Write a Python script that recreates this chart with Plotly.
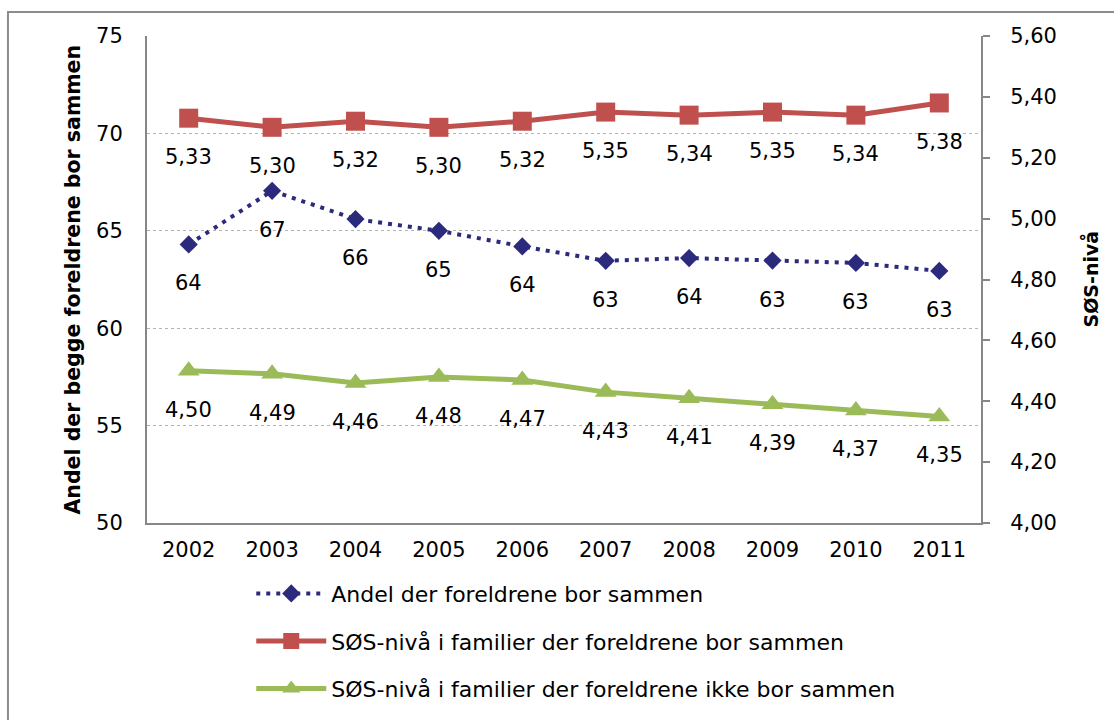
import plotly.graph_objects as go

# Data
years = ["2002", "2003", "2004", "2005", "2006", "2007", "2008", "2009", "2010", "2011"]
andel_sammen = [64.3, 67.05, 65.6, 65.0, 64.2, 63.46, 63.6, 63.47, 63.35, 62.94]
sos_sammen = [5.33, 5.30, 5.32, 5.30, 5.32, 5.35, 5.34, 5.35, 5.34, 5.38]
sos_ikke_sammen = [4.50, 4.49, 4.46, 4.48, 4.47, 4.43, 4.41, 4.39, 4.37, 4.35]

names = [
    "Andel der foreldrene bor sammen",
    "SØS-nivå i familier der foreldrene bor sammen",
    "SØS-nivå i familier der foreldrene ikke bor sammen",
]

BLUE = "#2C2A7C"
RED = "#C0504D"
GREEN = "#9BBB59"
AXIS = "#878787"
FONT = "DejaVu Sans"
FS = 21

fig = go.Figure()

fig.add_trace(go.Scatter(
    x=years, y=andel_sammen, name=names[0], mode="lines+markers",
    line=dict(color=BLUE, width=4, dash="4px,6px"),
    marker=dict(symbol="diamond", size=14, color=BLUE),
    legendgroup="a", yaxis="y",
))
fig.add_trace(go.Scatter(
    x=years, y=sos_sammen, name=names[1], mode="lines+markers",
    line=dict(color=RED, width=5),
    marker=dict(symbol="square", size=19, color=RED),
    legendgroup="b", yaxis="y2",
))
fig.add_trace(go.Scatter(
    x=years, y=sos_ikke_sammen, name=names[2], mode="lines+markers",
    line=dict(color=GREEN, width=5),
    marker=dict(symbol="triangle-up", size=19, color=GREEN),
    legendgroup="c", yaxis="y2",
))

# Value labels under each marker (x given as category index)
label_font = dict(family=FONT, size=FS, color="#000")
annotations = []
for i, v in enumerate(andel_sammen):
    annotations.append(dict(x=i, y=v, xref="x", yref="y", text=f"{v:.0f}",
                            showarrow=False, yshift=-39, font=label_font))
for series in (sos_sammen, sos_ikke_sammen):
    for i, v in enumerate(series):
        annotations.append(dict(x=i, y=v, xref="x", yref="y2",
                                text=f"{v:.2f}".replace(".", ","),
                                showarrow=False, yshift=-39, font=label_font))

# Axis titles
annotations.append(dict(xref="paper", yref="paper", x=-0.0899, y=0.5,
                        xanchor="center", yanchor="middle",
                        text="<b>Andel der begge foreldrene bor sammen</b>", textangle=-90,
                        showarrow=False, font=dict(family=FONT, size=20.5, color="#000")))
annotations.append(dict(xref="paper", yref="paper", x=1.1307, y=0.5,
                        xanchor="center", yanchor="middle",
                        text="<b>SØS-nivå</b>", textangle=-90,
                        showarrow=False, font=dict(family=FONT, size=19, color="#000")))

fig.update_layout(
    width=1114, height=720,
    margin=dict(l=147, r=133, t=36, b=197, autoexpand=False),
    paper_bgcolor="white", plot_bgcolor="white",
    separators=", ",
    font=dict(family=FONT, size=FS, color="#000"),
    showlegend=True,
    legend=dict(
        x=0.125, y=-0.1018, xanchor="left", yanchor="top",
        orientation="v", traceorder="grouped", tracegroupgap=16,
        itemwidth=70, font=dict(family=FONT, size=22, color="#000"),
        bgcolor="rgba(0,0,0,0)",
    ),
    xaxis=dict(
        type="category", range=[-0.5, 9.5],
        showline=True, linecolor=AXIS, linewidth=2, mirror=False,
        showgrid=False, ticks="", ticklabelstandoff=7,
        tickfont=dict(family=FONT, size=FS),
    ),
    yaxis=dict(
        range=[50, 75], dtick=5, tick0=50,
        showline=True, linecolor=AXIS, linewidth=2,
        showgrid=True, gridcolor="#B4B4B4", griddash="dot", gridwidth=1,
        ticks="", ticklabelstandoff=18, zeroline=False,
        tickfont=dict(family=FONT, size=FS),
    ),
    yaxis2=dict(
        range=[4.0, 5.6], dtick=0.2, tick0=4.0, tickformat=".2f",
        overlaying="y", side="right",
        showline=True, linecolor=AXIS, linewidth=2,
        showgrid=False, zeroline=False,
        ticks="outside", ticklen=7, tickwidth=2, tickcolor=AXIS,
        ticklabelstandoff=16,
        tickfont=dict(family=FONT, size=FS),
    ),
    annotations=annotations,
    shapes=[dict(type="rect", xref="paper", yref="paper",
                 x0=-0.1667, y0=-0.6, x1=1.3, y1=1.0493,
                 line=dict(color="#8C8C8C", width=2), fillcolor="rgba(0,0,0,0)", layer="below")],
)

fig.write_html("out.html")
